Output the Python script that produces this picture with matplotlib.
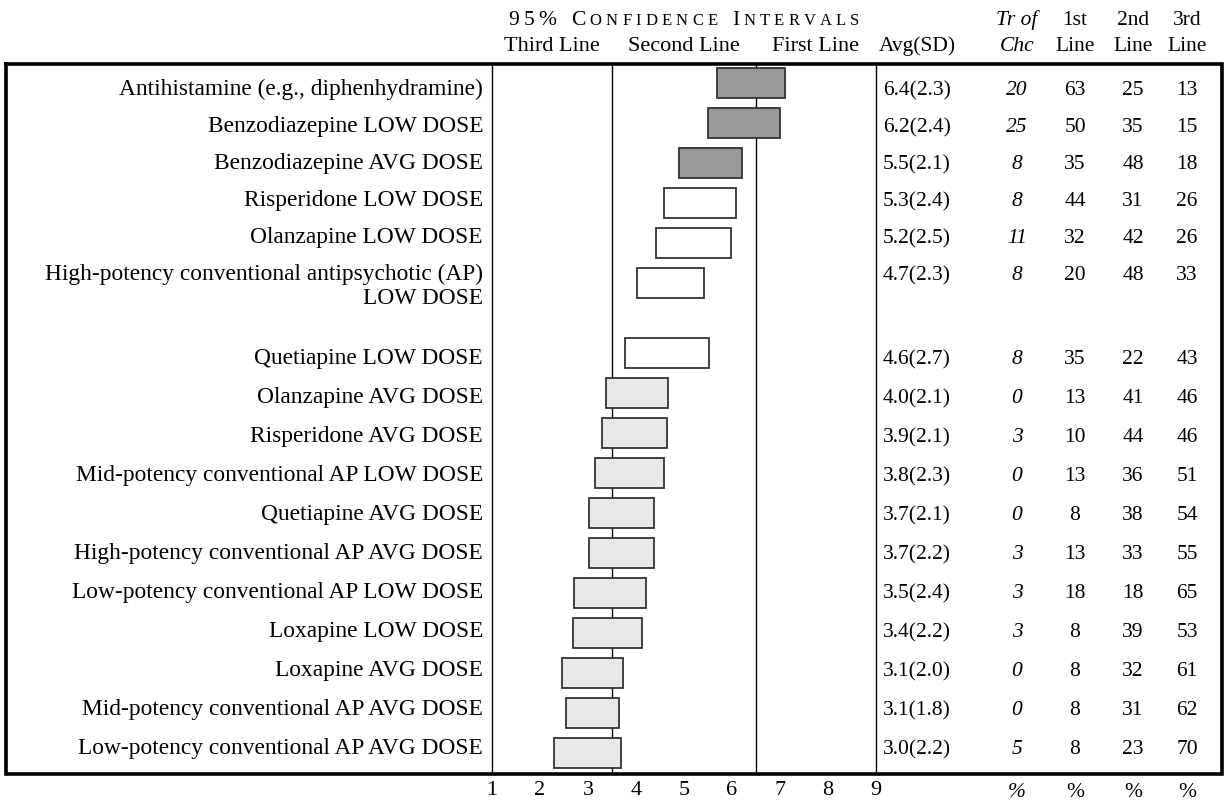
import matplotlib
matplotlib.use("Agg")
import matplotlib.pyplot as plt
import matplotlib.transforms as mtransforms
import numpy as np

plt.rcParams['font.family'] = ['Liberation Serif', 'DejaVu Serif']

# --- data ---
labels = [
    "Antihistamine (e.g., diphenhydramine)",
    "Benzodiazepine LOW DOSE",
    "Benzodiazepine AVG DOSE",
    "Risperidone LOW DOSE",
    "Olanzapine LOW DOSE",
    "High-potency conventional antipsychotic (AP)\nLOW DOSE",
    "Quetiapine LOW DOSE",
    "Olanzapine AVG DOSE",
    "Risperidone AVG DOSE",
    "Mid-potency conventional AP LOW DOSE",
    "Quetiapine AVG DOSE",
    "High-potency conventional AP AVG DOSE",
    "Low-potency conventional AP LOW DOSE",
    "Loxapine LOW DOSE",
    "Loxapine AVG DOSE",
    "Mid-potency conventional AP AVG DOSE",
    "Low-potency conventional AP AVG DOSE",
]
ci_low = [5.69, 5.49, 4.89, 4.58, 4.42, 4.02, 3.77, 3.38, 3.29, 3.15, 3.02, 3.02, 2.71, 2.69, 2.46, 2.54, 2.29]
ci_high = [7.10, 6.99, 6.21, 6.08, 5.98, 5.42, 5.52, 4.67, 4.65, 4.58, 4.38, 4.38, 4.21, 4.13, 3.73, 3.65, 3.69]
group = ["first"] * 3 + ["second"] * 4 + ["third"] * 10
avg = [6.4, 6.2, 5.5, 5.3, 5.2, 4.7, 4.6, 4.0, 3.9, 3.8, 3.7, 3.7, 3.5, 3.4, 3.1, 3.1, 3.0]
sd = [2.3, 2.4, 2.1, 2.4, 2.5, 2.3, 2.7, 2.1, 2.1, 2.3, 2.1, 2.2, 2.4, 2.2, 2.0, 1.8, 2.2]
tr_chc = [20, 25, 8, 8, 11, 8, 8, 0, 3, 0, 0, 3, 3, 3, 0, 0, 5]
first_line = [63, 50, 35, 44, 32, 20, 35, 13, 10, 13, 8, 13, 18, 8, 8, 8, 8]
second_line = [25, 35, 48, 31, 42, 48, 22, 41, 44, 36, 38, 33, 18, 39, 32, 31, 23]
third_line = [13, 15, 18, 26, 26, 33, 43, 46, 46, 51, 54, 55, 65, 53, 61, 62, 70]
scale_ticks = [1, 2, 3, 4, 5, 6, 7, 8, 9]
zones = [(1, 3.5, "Third Line"), (3.5, 6.5, "Second Line"), (6.5, 9, "First Line")]

fills = {"first": "#999999", "second": "#ffffff", "third": "#e8e8e8"}
FS = 15.5      # numbers / headers
LFS = 16.8     # row labels

# row positions: the two-line label takes extra room
nlines = [l.count("\n") + 1 for l in labels]
pos = []
y = 0.0
for i, n in enumerate(nlines):
    pos.append(y)
    y += 1.0 + 0.75 * (n - 1)
pos = np.array(pos)

# table text runs on its own pitch (tighter above the wrapped row)
text_y = []
c = 89
for i, n in enumerate(nlines):
    text_y.append(c)
    if n > 1:
        c += 24 * (n - 1) + 60
    else:
        c += 37 if i < 5 else 39

W, H = 1227, 804
fig = plt.figure(figsize=(W / 100, H / 100), dpi=100)
bg = fig.add_axes([0, 0, 1, 1])
bg.set_xlim(0, W)
bg.set_ylim(H, 0)
bg.axis("off")

# bar panel (pixels 492..876 horizontally, 65..775 vertically)
top_px, bot_px = 65, 775
ax = fig.add_axes([492 / W, 1 - bot_px / H, 384 / W, (bot_px - top_px) / H])
ax.patch.set_alpha(0)
ax.set_xlim(1, 9)
ax.set_ylim(pos[-1] + 0.525, -0.475)
for s in ["top", "bottom"]:
    ax.spines[s].set_visible(False)
for s in ["left", "right"]:
    ax.spines[s].set_linewidth(1.0)
ax.set_yticks([])
ax.set_xticks(scale_ticks)
ax.set_xticklabels([str(t) for t in scale_ticks], fontsize=16)
ax.tick_params(axis="x", length=0, pad=4)
for xb in [3.5, 6.5]:
    ax.axvline(xb, color="black", lw=1.0, zorder=1)

ax.barh(pos, np.array(ci_high) - np.array(ci_low), left=ci_low, height=0.75,
        color=[fills[g] for g in group], edgecolor="#333333", linewidth=1.3, zorder=3)

# outer frame
bg.plot([6, 1222, 1222, 6, 6], [top_px, top_px, bot_px, bot_px, top_px],
        color="black", lw=2.6, solid_joinstyle="miter", zorder=5)

col_x = {"avg": 917, "tr": 1017, "c1": 1075, "c2": 1133, "c3": 1187}
for i, lab in enumerate(labels):
    base = text_y[i] + 6
    for k, part in enumerate(lab.split("\n")):
        bg.text(483, base + 24 * k, part, ha="right", va="baseline", fontsize=LFS)
    bg.text(col_x["avg"], base, f"{avg[i]:.1f}({sd[i]:.1f})", ha="center", va="baseline",
            fontsize=FS)
    bg.text(col_x["tr"], base, str(tr_chc[i]), ha="center", va="baseline", fontsize=FS,
            style="italic")
    for key, vals in [("c1", first_line), ("c2", second_line), ("c3", third_line)]:
        bg.text(col_x[key], base, str(vals[i]), ha="center", va="baseline", fontsize=FS)

# headers
hx = mtransforms.blended_transform_factory(ax.transData, bg.transData)
for a, b, name in zones:
    bg.text((a + b) / 2, 51, name, ha="center", va="baseline", fontsize=16, transform=hx)
bg.text(col_x["avg"], 51, "Avg(SD)", ha="center", va="baseline", fontsize=FS)
bg.text(col_x["tr"], 25, "Tr of", ha="center", va="baseline", fontsize=FS, style="italic")
bg.text(col_x["tr"], 51, "Chc", ha="center", va="baseline", fontsize=FS, style="italic")
for key, top in [("c1", "1st"), ("c2", "2nd"), ("c3", "3rd")]:
    bg.text(col_x[key], 25, top, ha="center", va="baseline", fontsize=FS)
    bg.text(col_x[key], 51, "Line", ha="center", va="baseline", fontsize=FS)

# bottom % row
bg.text(col_x["tr"], 797, "%", ha="center", va="baseline", fontsize=FS, style="italic")
for key in ["c1", "c2", "c3"]:
    bg.text(col_x[key], 797, "%", ha="center", va="baseline", fontsize=FS)

# letter-spaced small-caps title
renderer = fig.canvas.get_renderer()
pieces = [("95% ", 15.5), ("C", 15.5), ("ONFIDENCE", 12), (" I", 15.5), ("NTERVALS", 12)]
track = 4.2
chars = []
for txt, size in pieces:
    for ch in txt:
        t = bg.text(0, 25, ch, ha="left", va="baseline", fontsize=size)
        w = t.get_window_extent(renderer).width
        if ch == " ":
            w = size * 0.4
        chars.append((t, w))
total = sum(w for _, w in chars) + track * (len(chars) - 1)
x0 = 684 - total / 2
for t, w in chars:
    t.set_x(x0)
    x0 += w + track

fig.savefig("out.png", dpi=100)
